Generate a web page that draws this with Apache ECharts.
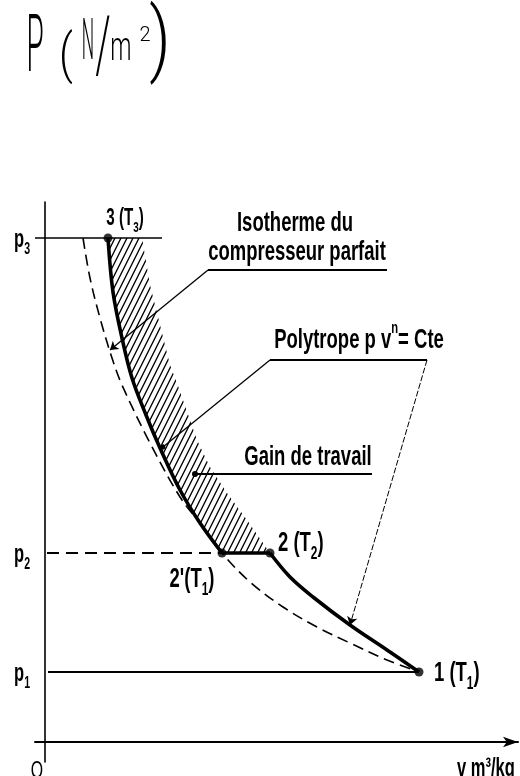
<!DOCTYPE html>
<html>
<head>
<meta charset="utf-8">
<title>Compression étagée – diagramme p-v</title>
<script src="https://cdn.jsdelivr.net/npm/echarts@6/dist/echarts.min.js"></script>
<style>
  html, body { margin: 0; padding: 0; background: #fff; }
  #chart { width: 520px; height: 776px; }
</style>
</head>
<body>
<div id="chart"></div>
<script>
// ---- p-v diagram of a two-stage compression with intercooling (arbitrary units) ----
const pLevels = [17.5, 47.25, 126];     // p1, p2, p3
const pIndices = ['1', '2', '3'];       // subscripts on the p axis

const point1 = [93.5, 17.5];            // 1 (T1)
const point2 = [56.25, 47.25];          // 2 (T2)
const point2p = [44.25, 47.25];         // 2' (T1)
const point3 = [15.75, 126];            // 3 (T3)

// first stage polytrope 1 -> 2
const polytropeLow = [[56.25, 47.25], [61.25, 41.25], [67, 36.25], [76.25, 29.25], [85.5, 23], [93.5, 17.5]];
// second stage polytrope 2' -> 3
const polytropeHigh = [[15.75, 126], [17, 112.5], [19.25, 101], [21.75, 91], [25.25, 81.75],
  [28.75, 73.5], [33.75, 63], [38.75, 54.75], [44.25, 47.25]];
// single stage polytrope continued from 2 up to p3 (edge of the work gain)
const singleStage = [[24.25, 126], [26.25, 114.25], [28.75, 104.25], [31.25, 94.25], [33, 89.75],
  [38, 75.5], [41.25, 68.75], [45.5, 62.25], [50.5, 55.5], [56.25, 47.25]];
// isotherm T1 of the ideal compressor
const isotherm = [[9.5, 126], [11.25, 116], [13.75, 106], [16.75, 96], [19.25, 89.25], [26.25, 74.75],
  [33.75, 61.25], [39.5, 53.75], [44.25, 47.25], [51.25, 40], [59.5, 33.75], [68, 28.75],
  [76.25, 24.75], [85.5, 20.5], [93.5, 17.5]];

// annotation leaders
const leaderIsotherm = [[85.5, 118], [40.75, 118], [16.25, 98]];
const leaderPolytrope = [[56.25, 95.5], [95.5, 95.5]];
const leaderPolyLeftEnd = [29.5, 73.75];
const leaderPolyRightEnd = [76.25, 29.25];
const leaderGain = [[81.75, 67], [37.5, 67]];

const p3LineSpan = [-2.5, 29.25];
const p2DashStart = 0.5;
const p1LineStart = 0.75;

// diagonal hatch tile
function hatchTile() {
  const c = document.createElement('canvas');
  c.width = 6; c.height = 12;
  const g = c.getContext('2d');
  g.strokeStyle = '#000';
  g.lineWidth = 1.3;
  g.beginPath();
  for (const dx of [-6, 0, 6]) {
    g.moveTo(-1 + dx, 14);
    g.lineTo(7 + dx, -2);
  }
  g.stroke();
  return c;
}
const hatch = hatchTile();
const hatchOutline = polytropeHigh.concat(singleStage.slice().reverse());

const chart = echarts.init(document.getElementById('chart'), null, { renderer: 'canvas' });
const ink = '#000';
const base = { type: 'line', symbol: 'none', silent: true, animation: false };

chart.setOption({
  animation: false,
  backgroundColor: '#fff',
  grid: { left: 35, right: 2, top: 202, bottom: 14 },
  xAxis: {
    type: 'value', min: -2.5, max: 118.25,
    axisLine: { onZero: true, symbol: ['none', 'arrow'], symbolSize: [8, 15], lineStyle: { color: ink, width: 2 } },
    axisTick: { show: false }, axisLabel: { show: false }, splitLine: { show: false }
  },
  yAxis: {
    type: 'value', min: -5, max: 135,
    axisLine: { onZero: true, lineStyle: { color: ink, width: 1.6 } },
    axisTick: { show: false }, axisLabel: { show: false }, splitLine: { show: false }
  },
  series: [
    {
      type: 'custom', silent: true, animation: false, z: 1,
      data: [[0, 0]],
      renderItem: (params, api) => ({
        type: 'polygon',
        shape: { points: hatchOutline.map(d => api.coord(d)) },
        style: { fill: { type: 'pattern', image: hatch, repeat: 'repeat' }, stroke: null }
      })
    },
    Object.assign({}, base, { name: 'isotherme', data: isotherm, smooth: 0.35, z: 3,
      lineStyle: { color: ink, width: 1.6, type: [11, 6] } }),
    Object.assign({}, base, { name: 'polytrope 2\'-3', data: polytropeHigh, smooth: 0.35, z: 4,
      lineStyle: { color: ink, width: 3.6 } }),
    Object.assign({}, base, { name: 'polytrope 1-2', data: polytropeLow, smooth: 0.35, z: 4,
      lineStyle: { color: ink, width: 3.6 } }),
    Object.assign({}, base, { name: 'refroidissement', data: [point2p, point2], z: 4,
      lineStyle: { color: ink, width: 3.6 } }),
    Object.assign({}, base, { name: 'p3', data: [[p3LineSpan[0], pLevels[2]], [p3LineSpan[1], pLevels[2]]], z: 3,
      lineStyle: { color: ink, width: 1.7 } }),
    Object.assign({}, base, { name: 'p2', data: [[p2DashStart, pLevels[1]], point2p], z: 3,
      lineStyle: { color: ink, width: 2, type: [12, 7] } }),
    Object.assign({}, base, { name: 'p1', data: [[p1LineStart, pLevels[0]], point1], z: 3,
      lineStyle: { color: ink, width: 2 } }),
    {
      type: 'scatter', silent: true, animation: false, z: 6,
      data: [point3, point2p, point2, point1],
      symbolSize: 9, itemStyle: { color: ink }
    },
    Object.assign({}, base, {
      name: 'renvois', data: [], z: 5,
      markLine: {
        silent: true, animation: false, symbol: ['none', 'none'], label: { show: false },
        emphasis: { disabled: true },
        lineStyle: { color: ink, width: 1.3, type: 'solid' },
        data: [
          [{ coord: leaderIsotherm[0], lineStyle: { width: 2 } }, { coord: leaderIsotherm[1] }],
          [{ coord: leaderIsotherm[1] }, { coord: leaderIsotherm[2], symbol: 'arrow', symbolSize: 8 }],
          [{ coord: leaderPolytrope[0], lineStyle: { width: 2 } }, { coord: leaderPolytrope[1] }],
          [{ coord: leaderPolytrope[0] }, { coord: leaderPolyLeftEnd, symbol: 'circle', symbolSize: 5 }],
          [{ coord: leaderPolytrope[1], lineStyle: { width: 1, type: [6, 2] } },
           { coord: leaderPolyRightEnd, symbol: 'arrow', symbolSize: 8 }],
          [{ coord: leaderGain[0], lineStyle: { width: 2 } }, { coord: leaderGain[1], symbol: 'circle', symbolSize: 6 }]
        ]
      }
    })
  ]
});

// ---- text (condensed lettering) ----
const FONT = '"Liberation Sans", Arial, sans-serif';
const SX = 0.66;
function label(x, y, text, o) {
  o = o || {};
  return {
    type: 'text', x: x, y: y, scaleX: o.sx || SX, silent: true, z: 10,
    style: {
      text: text, fill: ink, fontFamily: o.family || FONT, fontSize: o.size || 28,
      fontWeight: o.weight || 'bold',
      align: o.align || 'center', verticalAlign: o.valign || 'middle', rich: o.rich
    }
  };
}
const rs = (size, lh, va) => ({ fontSize: size, lineHeight: lh, fontFamily: FONT, fontWeight: 'bold', verticalAlign: va });
const subRich = { n: rs(28, 28, 'middle'), s: rs(18, 40, 'bottom'), u: rs(17, 40, 'top') };
const smallRich = { n: rs(23, 23, 'middle'), s: rs(15, 33, 'bottom') };
const pRich = { n: rs(25, 25, 'middle'), s: rs(16, 36, 'bottom') };

const px = d => chart.convertToPixel({ gridIndex: 0 }, d);
const P1 = px(point1), P2 = px(point2), P2p = px(point2p), P3 = px(point3);
const axisX = px([0, 0])[0];

const graphics = [];
pLevels.forEach((p, i) => {
  const y = px([0, p])[1];
  graphics.push(label(axisX - 15, y + 2, '{n|p}{s|' + pIndices[i] + '}', { align: 'right', rich: pRich }));
});
graphics.push(label(P3[0] + 17, P3[1] - 19, '{n|3 (T}{s|3}{n|)}', { rich: smallRich }));
graphics.push(label(P2[0] + 8, P2[1] - 10, '{n|2 (T}{s|2}{n|)}', { align: 'left', rich: subRich }));
graphics.push(label(P2p[0] - 30, P2p[1] + 26, '{n|2\'(T}{s|1}{n|)}', { rich: subRich }));
graphics.push(label(P1[0] + 15, P1[1] + 1, '{n|1 (T}{s|1}{n|)}', { align: 'left', rich: subRich }));

graphics.push(label(295, 223, 'Isotherme du'));
graphics.push(label(297, 252, 'compresseur parfait'));
graphics.push(label(359, 340, '{n|Polytrope p v}{u|n}{n|= Cte}', { rich: subRich }));
graphics.push(label(308, 457, 'Gain de travail'));

graphics.push(label(37, 771, 'O', { size: 24, weight: 'normal' }));
graphics.push(label(457, 769, 'v m³/kg', { size: 25, align: 'left' }));

// handwritten axis title
const HW = 'Roboto, Lato, "DejaVu Sans", sans-serif';
const hw = (x, y, t, size, sx) => label(x, y, t, { size: size, sx: sx, family: HW, weight: 300 });
graphics.push(hw(35, 51, 'P', 80, 0.35));
graphics.push(hw(66, 58, '(', 54, 0.8));
graphics.push(hw(88, 44, 'N', 58, 0.3));
graphics.push(hw(103, 51, '/', 78, 0.5));
graphics.push(hw(121, 50, 'm', 40, 0.6));
graphics.push(hw(145, 36, '2', 20, 1));
graphics.push(hw(160, 45, ')', 82, 0.8));

chart.setOption({ graphic: graphics });
</script>
</body>
</html>
